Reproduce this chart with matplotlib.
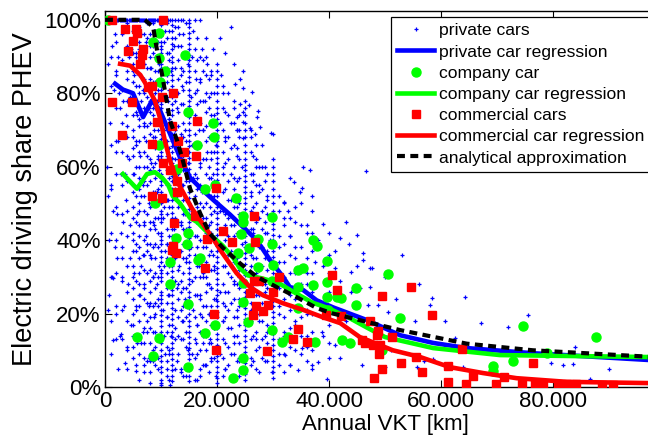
import numpy as np
import matplotlib
matplotlib.use("Agg")
import matplotlib.pyplot as plt

plt.rcParams['font.family'] = ['Liberation Sans', 'DejaVu Sans']

# ---------------- data (x in thousand km, y in %) ----------------
# private cars: dense vertical columns at rounded annual VKT values
priv_col_x = [3, 4, 5, 6, 7, 8, 9, 10, 10, 11, 12, 12, 13, 14, 15, 15, 16, 17, 18, 19, 20, 20,
              21, 22, 23, 24, 25, 25, 26, 27, 28, 29, 30, 30, 32, 33, 35, 37, 40,
              5.5, 7.5, 8.5, 9.5, 11.5, 12.5, 13.5, 14.5, 16.5, 17.5, 18.5, 19.5, 21.5, 22.5,
              23.5, 26.5, 27.5, 28.5, 31, 34, 36, 2, 1]
priv_col_y = [
    [96, 89, 81, 72, 64, 55, 47, 38, 30, 21, 13],
    [99, 93, 86, 78, 71, 63, 56, 48, 41, 33, 26, 18, 11, 5],
    [100, 97, 95, 91, 88, 86, 83, 79, 77, 74, 70, 68, 65, 63, 58, 55, 53, 49, 46, 42, 40, 37, 33, 30, 27, 24, 20, 17, 14, 11, 8],
    [100, 98, 94, 92, 89, 85, 82, 80, 76, 73, 71, 67, 64, 60, 57, 54, 50, 48, 44, 41, 38, 35, 31, 28, 25, 22, 18, 13, 9],
    [100, 96, 92, 88, 84, 80, 76, 72, 68, 64, 60, 56, 52, 48, 44, 40, 36, 32, 28, 24, 20, 16, 12, 8, 4],
    [100, 99, 96, 93, 90, 87, 84, 81, 78, 75, 72, 69, 66, 62, 59, 56, 52, 49, 45, 43, 39, 36, 32, 29, 26, 23, 19, 16, 12, 7, 4],
    [100, 97, 94, 90, 86, 83, 80, 76, 72, 68, 65, 61, 57, 53, 50, 46, 43, 39, 35, 31, 27, 23, 20, 15, 11, 6],
    [100, 99, 97, 96, 94, 93, 91, 89, 88, 86, 84, 83, 81, 79, 78, 76, 74, 72, 71, 69, 66, 64, 63, 61, 58, 56, 55, 53, 50, 48, 47, 45, 42, 40, 39, 37, 34, 32, 31, 29, 26, 24, 23, 21, 18, 15, 13, 10, 7, 4, 2],
    [98.5, 95.5, 92, 87, 82, 77, 73, 67.5, 62, 57, 51.5, 46, 41, 35.5, 30, 25, 19.5, 16.5, 12, 8.5, 5.5, 1],
    [99, 95, 91, 87, 83, 79, 75, 71, 67, 63, 59, 55, 51, 47, 43, 39, 35, 31, 27, 23, 19, 15, 11, 7, 3],
    [100, 97, 95, 92, 90, 87, 85, 82, 79, 77, 74, 72, 69, 67, 64, 61, 59, 56, 54, 51, 49, 46, 43, 41, 38, 36, 33, 30, 28, 25, 23, 20, 17, 15, 12, 9, 6, 3],
    [98.5, 93.5, 88.5, 83.5, 80.5, 75.5, 70.5, 65.5, 62.5, 57.5, 52.5, 47.5, 44.5, 39.5, 34.5, 31.5, 26.5, 21.5, 18.5, 13.5, 10.5, 7.5, 4.5, 1.5],
    [98, 93, 89, 84, 80, 75, 71, 66, 62, 58, 53, 49, 45, 41, 37, 32, 28, 24, 19, 14, 9],
    [96, 91, 86, 81, 77, 72, 68, 63, 59, 55, 51, 47, 43, 39, 35, 31, 27, 22, 18, 13],
    [100, 98, 95, 92, 89, 86, 83, 81, 78, 75, 72, 70, 67, 64, 61, 58, 56, 53, 50, 47, 45, 42, 39, 36, 34, 31, 28, 26, 23, 20, 18, 15, 12, 9, 6, 3],
    [99, 96.5, 93.5, 90.5, 87.5, 84.5, 79.5, 76.5, 73.5, 68.5, 65.5, 62.5, 59.5, 54.5, 51.5, 48.5, 43.5, 40.5, 37.5, 32.5, 29.5, 24.5, 21.5, 16.5, 13.5, 10.5, 7.5, 4.5, 1.5],
    [92, 86, 80, 74, 69, 63, 58, 52, 47, 41, 36, 30, 25, 19, 13, 8],
    [90, 84, 78, 72, 66, 60, 55, 50, 45, 40, 35, 30, 25, 20, 15, 10, 5],
    [95, 90, 85, 80, 75, 71, 67, 62, 58, 54, 50, 46, 42, 38, 34, 30, 26, 22, 18, 14, 10, 6],
    [86, 80, 74, 68, 62, 57, 52, 47, 42, 37, 32, 27, 22, 17, 12, 7],
    [88, 84, 80, 76, 73, 70, 67, 64, 61, 58, 55, 52, 49, 46, 43, 40, 37, 34, 31, 28, 25, 22, 19, 16, 13, 10, 7, 4, 1],
    [86, 82, 78, 74.5, 71.5, 68.5, 65.5, 62.5, 59.5, 56.5, 53.5, 50.5, 47.5, 44.5, 41.5, 38.5, 35.5, 32.5, 29.5, 26.5, 23.5, 20.5, 17.5, 14.5, 11.5, 8.5, 5.5, 2.5],
    [82, 76, 70, 64, 58, 53, 48, 43, 38, 33, 28, 23, 18, 13, 8, 3],
    [80, 74, 68, 62, 56, 51, 46, 41, 36, 31, 26, 21, 16, 11, 6],
    [78, 72, 66, 60, 54, 49, 44, 39, 34, 29, 24, 19, 14, 9],
    [74, 68, 62, 57, 52, 47, 42, 37, 32, 27, 22, 17, 12, 7, 3],
    [78, 74, 70, 66, 62, 59, 56, 53, 50, 47, 44, 41, 38, 35, 32, 29, 26, 23, 20, 17, 14, 11, 8, 5, 2],
    [76, 72, 68, 64, 60.5, 57.5, 54.5, 51.5, 48.5, 45.5, 42.5, 39.5, 36.5, 33.5, 30.5, 27.5, 24.5, 21.5, 18.5, 15.5, 12.5, 9.5, 6.5, 3.5],
    [70, 64, 58, 53, 48, 43, 38, 33, 28, 23, 18, 13, 8],
    [66, 60, 55, 50, 45, 40, 35, 30, 25, 20, 15, 10, 5],
    [66, 60, 54, 48, 43, 38, 33, 28, 23, 18, 13, 8],
    [58, 52, 47, 42, 37, 32, 27, 22, 17, 12, 7],
    [62, 58, 54, 50, 46, 43, 40, 37, 34, 31, 28, 25, 22, 19, 16, 13, 10, 7, 4],
    [60, 56, 52, 48, 44.5, 41.5, 38.5, 35.5, 32.5, 29.5, 26.5, 23.5, 20.5, 17.5, 14.5, 11.5, 8.5, 5.5, 2.5],
    [50, 44, 39, 34, 29, 24, 19, 14, 9, 4],
    [46, 41, 36, 31, 26, 21, 16, 11, 6],
    [50, 44, 38, 33, 28, 24, 19, 14, 9],
    [48, 42, 37, 31, 26, 20, 15, 10, 6],
    [42, 36, 31, 26, 22, 17, 12, 8],
    [98, 90, 82, 75, 67, 60, 52, 45, 37, 29, 22, 14, 6],
    [95, 87, 79, 71, 63, 55, 47, 39, 31, 23, 15, 7],
    [99, 91, 83, 76, 68, 60, 53, 45, 38, 30, 22, 15, 7],
    [94, 86, 78, 70, 62, 54, 46, 38, 30, 22, 14, 5],
    [97, 89, 81, 73, 65, 57, 49, 41, 33, 25, 17, 9, 2],
    [95, 87, 78, 70, 62, 54, 46, 38, 29, 21, 13, 5],
    [93, 85, 77, 69, 61, 53, 45, 37, 29, 21, 13, 5],
    [91, 83, 75, 67, 59, 51, 43, 35, 27, 19, 11, 3],
    [89, 81, 73, 65, 57, 49, 41, 33, 25, 17, 9, 2],
    [86, 78, 70, 62, 54, 46, 38, 30, 22, 14, 6],
    [84, 76, 68, 60, 52, 44, 36, 28, 20, 12, 4],
    [80, 72, 64, 56, 48, 40, 32, 24, 16, 8],
    [75, 68, 61, 54, 47, 40, 33, 26, 19, 12, 5],
    [72, 65, 58, 51, 44, 37, 30, 23, 16, 9],
    [70, 63, 56, 49, 42, 35, 28, 21, 14, 7],
    [63, 56, 49, 42, 35, 28, 21, 14, 7],
    [60, 53, 46, 39, 32, 25, 18, 11, 4],
    [56, 49, 42, 35, 28, 21, 14, 7],
    [48, 41, 34, 27, 20, 13, 6],
    [45, 38, 31, 24, 17, 10],
    [42, 35, 28, 21, 14, 7],
    [94, 85, 76, 67, 58, 49, 40, 31, 22, 13],
    [90, 78, 66, 54, 42, 30, 18],
]
# private cars at 100 % share (dense band along the top)
priv_top_x = [0.2, 0.4, 0.6, 0.8, 1.0, 1.2, 1.4, 1.6, 1.8, 2.0, 2.2, 2.4, 2.6, 2.8, 3.0, 3.2, 3.4,
              3.6, 3.8, 4.0, 4.2, 4.4, 4.6, 4.8, 5.2, 5.4, 5.6, 5.8, 6.2, 6.4, 6.6, 6.8, 7.2, 7.4,
              7.6, 7.8, 8.2, 8.4, 8.6, 8.8, 9.2, 9.4, 9.6, 9.8, 10.2, 10.4, 10.6, 10.8, 11.0,
              11.3, 11.6, 12.5, 13.0, 13.5, 14.0, 16.0, 17.0]
# private cars: scattered points
priv_pts = [
    (0.5, 88), (0.9, 72), (1.1, 55), (1.3, 93), (1.6, 81), (1.9, 64), (2.1, 47), (2.4, 90), (2.7, 76),
    (2.9, 58), (3.1, 35), (3.3, 97), (3.5, 69), (3.7, 51), (3.9, 84), (4.1, 28), (4.3, 62), (4.5, 44),
    (4.7, 92), (1.2, 30), (2.0, 20), (2.6, 14), (3.4, 22), (4.0, 10), (4.6, 17), (0.7, 40), (1.7, 38),
    (3.8, 74), (2.3, 67), (4.4, 79), (1.4, 29.7), (3.0, 29), (0.6, 21), (2.9, 14.4), (1.4, 12.8),
    (3.6, 6.5), (5.5, 4.3), (0.4, 60), (0.8, 25), (1.0, 82), (1.5, 48), (1.8, 96), (2.2, 35),
    (2.5, 80), (2.8, 42), (3.2, 78), (3.6, 58), (4.2, 90), (4.4, 35), (1.1, 9), (2.4, 5), (3.3, 45),
    (0.5, 52), (1.9, 86), (4.0, 68),
    (5.5, 91), (5.5, 66), (5.5, 39), (5.5, 21), (6.5, 96), (6.5, 78), (6.5, 52), (6.5, 33), (6.5, 12),
    (7.0, 88), (7.0, 71), (7.0, 45), (7.0, 27), (7.0, 6), (7.5, 99), (7.5, 82), (7.5, 60), (7.5, 37),
    (7.5, 18), (8.5, 93), (8.5, 74), (8.5, 51), (8.5, 30), (8.5, 10), (9.5, 97), (9.5, 81), (9.5, 63),
    (9.5, 42), (9.5, 24), (9.5, 8), (10.5, 94), (10.5, 70), (10.5, 49), (10.5, 33), (10.5, 14),
    (11.0, 85), (11.0, 62), (11.0, 39), (11.0, 19), (11.0, 5), (11.5, 91), (11.5, 73), (11.5, 55),
    (11.5, 28), (11.5, 10), (12.5, 98), (12.5, 80), (12.5, 58), (12.5, 35), (12.5, 16), (13.5, 87),
    (13.5, 68), (13.5, 44), (13.5, 26), (13.5, 4), (14.5, 99), (14.5, 75), (14.5, 56), (14.5, 34),
    (14.5, 15), (15.5, 90), (15.5, 66), (15.5, 48), (15.5, 29), (15.5, 9), (16.5, 95), (16.5, 77),
    (16.5, 54), (16.5, 38), (16.5, 17), (17.0, 83), (17.0, 61), (17.0, 44), (17.0, 24), (17.0, 3),
    (17.5, 89), (17.5, 70), (17.5, 49), (17.5, 31), (17.5, 12), (18.5, 79), (18.5, 57), (18.5, 40),
    (18.5, 20), (19.0, 85), (19.0, 64), (19.0, 45), (19.0, 27), (19.0, 8), (19.5, 74), (19.5, 52),
    (19.5, 33), (19.5, 16), (6.0, 2), (8.0, 1), (11.6, 0.5), (14.0, 3), (16.0, 2), (10.0, 0.5),
    (5.2, 85), (5.2, 58), (5.2, 31), (5.8, 74), (5.8, 47), (5.8, 12), (6.3, 90), (6.3, 63), (6.3, 25),
    (6.8, 81), (6.8, 55), (6.8, 36), (6.8, 15), (7.3, 94), (7.3, 67), (7.3, 41), (7.8, 76), (7.8, 50),
    (7.8, 22), (7.8, 8), (8.3, 87), (8.3, 61), (8.3, 35), (8.8, 97), (8.8, 70), (8.8, 44), (8.8, 19),
    (9.3, 78), (9.3, 53), (9.3, 28), (9.7, 88), (9.7, 59), (9.7, 33), (10.3, 73), (10.3, 46),
    (10.3, 21), (10.8, 97), (10.8, 66), (10.8, 37), (10.8, 9), (11.3, 78), (11.3, 51), (11.3, 25),
    (11.8, 86), (11.8, 62), (11.8, 34), (11.8, 14), (12.3, 93), (12.3, 69), (12.3, 43), (12.8, 76),
    (12.8, 52), (12.8, 27), (12.8, 7), (13.3, 96), (13.3, 60), (13.3, 33), (13.8, 82), (13.8, 55),
    (13.8, 18), (14.3, 70), (14.3, 47), (14.3, 24), (14.8, 88), (14.8, 61), (14.8, 10), (15.3, 79),
    (15.3, 38), (15.8, 97), (15.8, 57), (15.8, 21), (16.3, 84), (16.3, 45), (16.3, 12), (16.8, 70),
    (16.8, 33), (17.3, 92), (17.3, 53), (17.3, 19), (17.8, 78), (17.8, 40), (17.8, 6), (18.3, 88),
    (18.3, 64), (18.3, 28), (18.8, 72), (18.8, 49), (18.8, 13), (19.3, 92), (19.3, 58), (19.3, 36),
    (19.8, 66), (19.8, 24), (19.8, 3),
    (20.5, 95), (21.5, 91), (22.5, 98), (23.0, 88), (20.8, 85),
    (20.5, 72), (20.5, 48), (20.5, 26), (20.5, 9), (21.0, 80), (21.0, 60), (21.0, 38), (21.0, 18),
    (21.5, 67), (21.5, 44), (21.5, 22), (21.5, 5), (23.0, 76), (23.0, 57), (23.0, 41), (23.0, 28),
    (23.0, 12), (23.5, 65), (23.5, 34), (23.5, 19), (24.0, 70), (24.0, 50), (24.0, 30), (24.0, 8),
    (24.5, 60), (24.5, 39), (24.0, 24), (26.0, 68), (26.0, 52), (26.0, 36), (26.0, 21), (26.0, 6),
    (26.5, 58), (26.5, 43), (26.5, 27), (27.0, 62), (27.0, 46), (27.0, 31), (27.0, 13), (27.5, 55),
    (27.5, 38), (27.5, 20), (28.5, 60), (28.5, 45), (28.5, 26), (29.0, 51), (29.0, 35), (29.0, 15),
    (29.5, 40), (29.5, 24),
    (24.6, 86), (24.1, 84), (23.2, 82.6), (24.6, 81.5), (26.3, 80.4), (24.1, 77), (25.7, 76.9),
    (24.6, 75), (27.3, 75.3), (23.6, 73.6), (27.1, 73.6), (24.6, 72.3), (25.9, 70.6), (27.7, 70.9),
    (23.6, 70), (29.6, 69.3), (26.8, 69), (24.6, 67.9), (30.0, 69),
    (35.4, 59.8), (36.6, 59), (33.8, 55.7), (35.2, 54.3), (34.8, 53), (32.0, 50.5), (32.6, 48),
    (39.0, 44.3), (42.0, 40.5), (43.6, 39), (45.0, 41.3), (46.0, 36.4), (46.6, 58.7), (46.0, 34.5),
    (47.7, 32.3), (47.3, 27.2), (48.8, 22.3), (50.5, 20.5), (53.0, 18.2), (55.4, 18), (58.4, 24.2),
    (60.7, 18), (58.0, 22.3), (62.5, 13.3), (64.3, 24.5), (67.2, 17.4), (72.0, 16.3), (75.5, 19.6),
    (83.9, 10.9), (81.8, 6), (83.6, 6.2), (79.7, 6.5), (86.6, 2.2), (64.0, 5.4), (58.6, 7.6),
    (55.7, 5.4), (50.0, 5.4), (39.6, 2.2),
    (37.5, 34), (41.0, 32.3), (44.0, 31.3), (47.3, 32.3), (45.5, 27), (47.0, 22.3), (42.9, 20.4),
    (38.8, 15), (41.0, 11.4), (35.2, 10.6), (32.1, 8.7), (38.0, 6.8), (34.5, 4.6), (29.8, 4),
    (45.9, 6), (31, 52), (31, 38), (31, 22), (31, 9), (32, 46), (32, 30), (32, 15), (33, 57), (33, 41),
    (33, 25), (33, 6), (34, 49), (34, 35), (34, 18), (36, 44), (36, 31), (36, 20), (36, 11), (37, 52),
    (37, 27), (37, 5), (38, 40), (38, 23), (39, 33), (39, 14), (41, 37), (41, 21), (42, 29), (42, 8),
    (43, 45), (43, 18), (44, 26), (44, 12), (45, 33), (49, 16), (50, 30), (51, 10), (52, 24),
    (53, 36), (56, 28), (57, 7), (90, 5),
]

# company cars
comp_pts = [
    (0.5, 100), (9.6, 96.5), (8.6, 94), (14.3, 90.5), (9.6, 89.6), (10.7, 86), (9.8, 83), (14.8, 75),
    (19.3, 72), (19.5, 68), (16.4, 66), (9.6, 66), (12.9, 59.5), (12.1, 59), (17.9, 54), (19.6, 55),
    (23.4, 51.6), (8.9, 50), (14.8, 42), (14.6, 38.9), (12.7, 40.5), (17.0, 35), (23.8, 36.4),
    (11.6, 34), (16.6, 34.5), (11.6, 28), (14.8, 22.5), (5.7, 13.6), (9.6, 13.3), (8.6, 8.4),
    (17.8, 14.7), (19.6, 16.8), (14.8, 5.4), (22.9, 2.4), (24.6, 46.7), (24.6, 45), (29.8, 46.2),
    (24.3, 41.6), (27.3, 40.2), (25.7, 37.8), (29.8, 39), (37.1, 40), (37.8, 38.3), (39.6, 34.2),
    (30.0, 33.2), (34.5, 31.8), (35.4, 32.3), (39.6, 28.5), (37.1, 27.7), (34.5, 27.2), (29.8, 29),
    (27.3, 32.6), (24.6, 28.3), (44.8, 26.9), (39.6, 24.5), (41.4, 24.5), (42.1, 24.2), (24.6, 23.1),
    (44.8, 22.3), (34.5, 21.5), (39.8, 21), (25.5, 17.7), (29.8, 15.5), (32.7, 13.6), (31.6, 12.2),
    (37.5, 12.2), (42.3, 12.8), (43.8, 12), (24.6, 7.9), (24.6, 4.6), (50.5, 30.7), (52.7, 18.8),
    (49.5, 10), (69.3, 5.7), (69.3, 4.3), (72.9, 7.1), (74.6, 16.6), (78.9, 9.2), (87.7, 13.6),
]

# commercial cars
comm_pts = [
    (1.3, 100), (10.4, 100), (3.6, 97.5), (5.5, 97.5), (5.7, 96.5), (5.0, 94.3), (6.8, 92), (4.1, 91.5),
    (6.6, 90.5), (6.3, 88), (7.7, 81.8), (8.4, 82), (12.1, 80), (10.2, 79), (1.3, 77.7), (4.8, 77.7),
    (16.4, 72.5), (9.3, 72.3), (12.0, 71.2), (3.0, 68.7), (8.4, 66.3), (13.0, 67), (14.1, 64),
    (16.3, 62.8), (10.4, 60.9), (13.8, 61), (11.6, 59.2), (19.8, 54.3), (12.9, 53), (8.4, 51.9),
    (10.2, 51.4), (12.9, 56), (16.0, 46.7), (21.1, 42.4), (18.2, 40.2), (22.7, 39.4), (12.3, 44.6),
    (12.1, 38.3), (12.0, 37.2), (12.7, 36.4), (17.9, 32.3), (19.5, 19.8), (19.8, 10), (26.6, 46.5),
    (26.8, 39.4), (31.1, 29.9), (40.5, 30.4), (26.6, 28.8), (27.5, 28.8), (25.9, 25.5), (30.0, 26),
    (41.4, 26.4), (49.5, 24.7), (27.0, 22), (29.1, 22.3), (28.2, 20.7), (26.4, 19.6), (39.5, 19.6),
    (42.1, 19.3), (47.3, 17.9), (34.5, 15.8), (48.8, 15.2), (33.6, 13), (36.1, 12.2), (45.9, 12.8),
    (46.4, 12), (47.9, 11.4), (49.1, 11.4), (28.9, 9.8), (48.9, 9), (49.5, 4.9), (48.0, 2.4),
    (54.6, 27.2), (58.4, 19.6), (48.6, 14.1), (51.2, 13.6), (52.9, 6.5), (55.5, 8.2), (56.6, 4.1),
    (61.3, 1.4), (63.8, 10.3), (61.3, 5.7), (64.5, 0.8), (65.7, 3), (69.8, 0.8), (71.3, 2.7),
    (74.5, 0.8), (76.4, 6.5), (76.8, 0.8), (78.2, 0.8), (80.9, 0.8), (82.5, 0.8), (84.1, 0.8),
    (88.8, 0.5), (90.7, 0.5),
]

# regression curves
priv_reg_x = [1.8, 3.2, 5.0, 6.8, 8.4, 9.8, 11.6, 13.4, 15.2, 17.5, 19.3, 22.3, 24.7, 27.1, 29.5,
              31.8, 33.0, 35.4, 37.8, 40.7, 46.8, 52.7, 58.6, 64.6, 76.4, 100]
priv_reg_y = [82.6, 81, 80, 73.5, 78, 75.4, 69, 62.5, 57, 53.5, 51, 47, 43.5, 40, 34.5,
              30, 27.2, 26.4, 23.6, 21.7, 18.2, 14.1, 12, 10.6, 9.2, 7.1]
comp_reg_x = [3.2, 5.7, 7.5, 8.9, 10.2, 11.3, 12.1, 13.4, 14.3, 15.2, 16.4, 17.9, 19.3, 21.0, 23.0,
              24.0, 25.5, 28.0, 31.0, 34.0, 37.0, 39.8, 43.4, 47.0, 50.0, 58.6, 70.5, 100]
comp_reg_y = [58, 54, 58, 58.5, 57, 55, 52, 50, 48, 46, 45, 42.7, 40.8, 38.5, 35,
              32.5, 30.4, 29.6, 28.3, 25.6, 23, 21.5, 19, 16, 13.6, 10.6, 8.7, 8.1]
comm_reg_x = [2.7, 4.5, 6.3, 7.7, 8.9, 9.8, 10.7, 11.6, 12.9, 14.3, 15.5, 17.0, 18.8, 21.0, 23.5,
              25.9, 28.2, 31.8, 35.4, 38.9, 42.0, 45.5, 51.4, 56.2, 61.6, 67.5, 73.5, 82.5, 100]
comm_reg_y = [88, 87.5, 85, 81.5, 78, 73.4, 67, 61.7, 56, 52, 48.7, 45.4, 41.5, 36.4, 31,
              27.2, 25, 22.8, 21, 19, 17.4, 13.6, 10, 8.2, 5.4, 3.8, 2.4, 1.4, 1]
anal_x = [0, 7.1, 8.6, 9.3, 10.2, 11.0, 11.6, 12.9, 13.9, 15.2, 17.0, 18.7, 21.0, 24.1, 27.1,
          30.7, 34.2, 37.8, 40.7, 52.7, 64.6, 76.4, 100]
anal_y = [100, 100, 98, 91.6, 85, 78, 72.6, 67, 61.7, 54, 47.3, 41.8, 38, 33.7, 30,
          27.2, 24.5, 21.5, 20, 15.5, 11.8, 10, 8.0]

xticks = [0, 20000, 40000, 60000, 80000]
xticklabels = ['0', '20.000', '40.000', '60.000', '80.000']
yticks = [0, 20, 40, 60, 80, 100]
yticklabels = ['0%', '20%', '40%', '60%', '80%', '100%']

# ---------------- assemble ----------------
px, py = [], []
for cx, ys in zip(priv_col_x, priv_col_y):
    px += [cx] * len(ys)
    py += ys
px += priv_top_x
py += [100] * len(priv_top_x)
px += [p[0] for p in priv_pts]
py += [p[1] for p in priv_pts]
px = np.array(px) * 1000
py = np.array(py)

cx_, cy_ = np.array([p[0] for p in comp_pts]) * 1000, np.array([p[1] for p in comp_pts])
mx_, my_ = np.array([p[0] for p in comm_pts]) * 1000, np.array([p[1] for p in comm_pts])

W, H = 648, 440
fig = plt.figure(figsize=(W / 100, H / 100), dpi=100)
ax = fig.add_axes([105 / W, 53 / H, (665 - 105) / W, (387 - 11) / H])

ax.plot(px, py, '+', color='#0000FF', ms=3.5, mew=0.9, zorder=2, label='private cars')
ax.plot(np.array(priv_reg_x) * 1000, priv_reg_y, '-', color='#0000FF', lw=3.3, zorder=3,
        label='private car regression')
ax.plot(cx_, cy_, 'o', color='#00FF00', mec='#00FF00', ms=6.5, zorder=4, label='company car')
ax.plot(np.array(comp_reg_x) * 1000, comp_reg_y, '-', color='#00FF00', lw=3.3, zorder=5,
        label='company car regression')
ax.plot(mx_, my_, 's', color='#FF0000', mec='#FF0000', ms=5.4, zorder=6, label='commercial cars')
ax.plot(np.array(comm_reg_x) * 1000, comm_reg_y, '-', color='#FF0000', lw=3.3, zorder=7,
        label='commercial car regression')
ax.plot(np.array(anal_x) * 1000, anal_y, color='black', lw=3.0, ls=(0, (1.9, 1.3)), zorder=8,
        label='analytical approximation')

ax.set_xlim(0, 100000)
ax.set_ylim(0, 102.4)
ax.set_xticks(xticks)
ax.set_xticklabels(xticklabels)
ax.set_yticks(yticks)
ax.set_yticklabels(yticklabels)
ax.tick_params(direction='in', top=True, right=True, length=5, width=0.8, labelsize=16, pad=3)
for s in ax.spines.values():
    s.set_linewidth(1.0)

ax.set_xlabel('Annual VKT [km]', fontsize=16)
ax.set_ylabel('Electric driving share PHEV', fontsize=19.5)
ax.xaxis.set_label_coords(0.5, -0.072)
ax.yaxis.set_label_coords(-0.12, 0.5)

leg = fig.legend(*ax.get_legend_handles_labels(), loc='upper left',
                 bbox_to_anchor=(391 / W, 1 - 17 / H), borderaxespad=0, fontsize=12.6,
                 frameon=True, fancybox=False, framealpha=1, edgecolor='black',
                 handlelength=2.1, handletextpad=0.28, labelspacing=0.34, borderpad=0.35,
                 numpoints=1, markerscale=1.0)
leg.get_frame().set_linewidth(0.9)
leg.set_zorder(20)

fig.savefig('out.png', dpi=100)
